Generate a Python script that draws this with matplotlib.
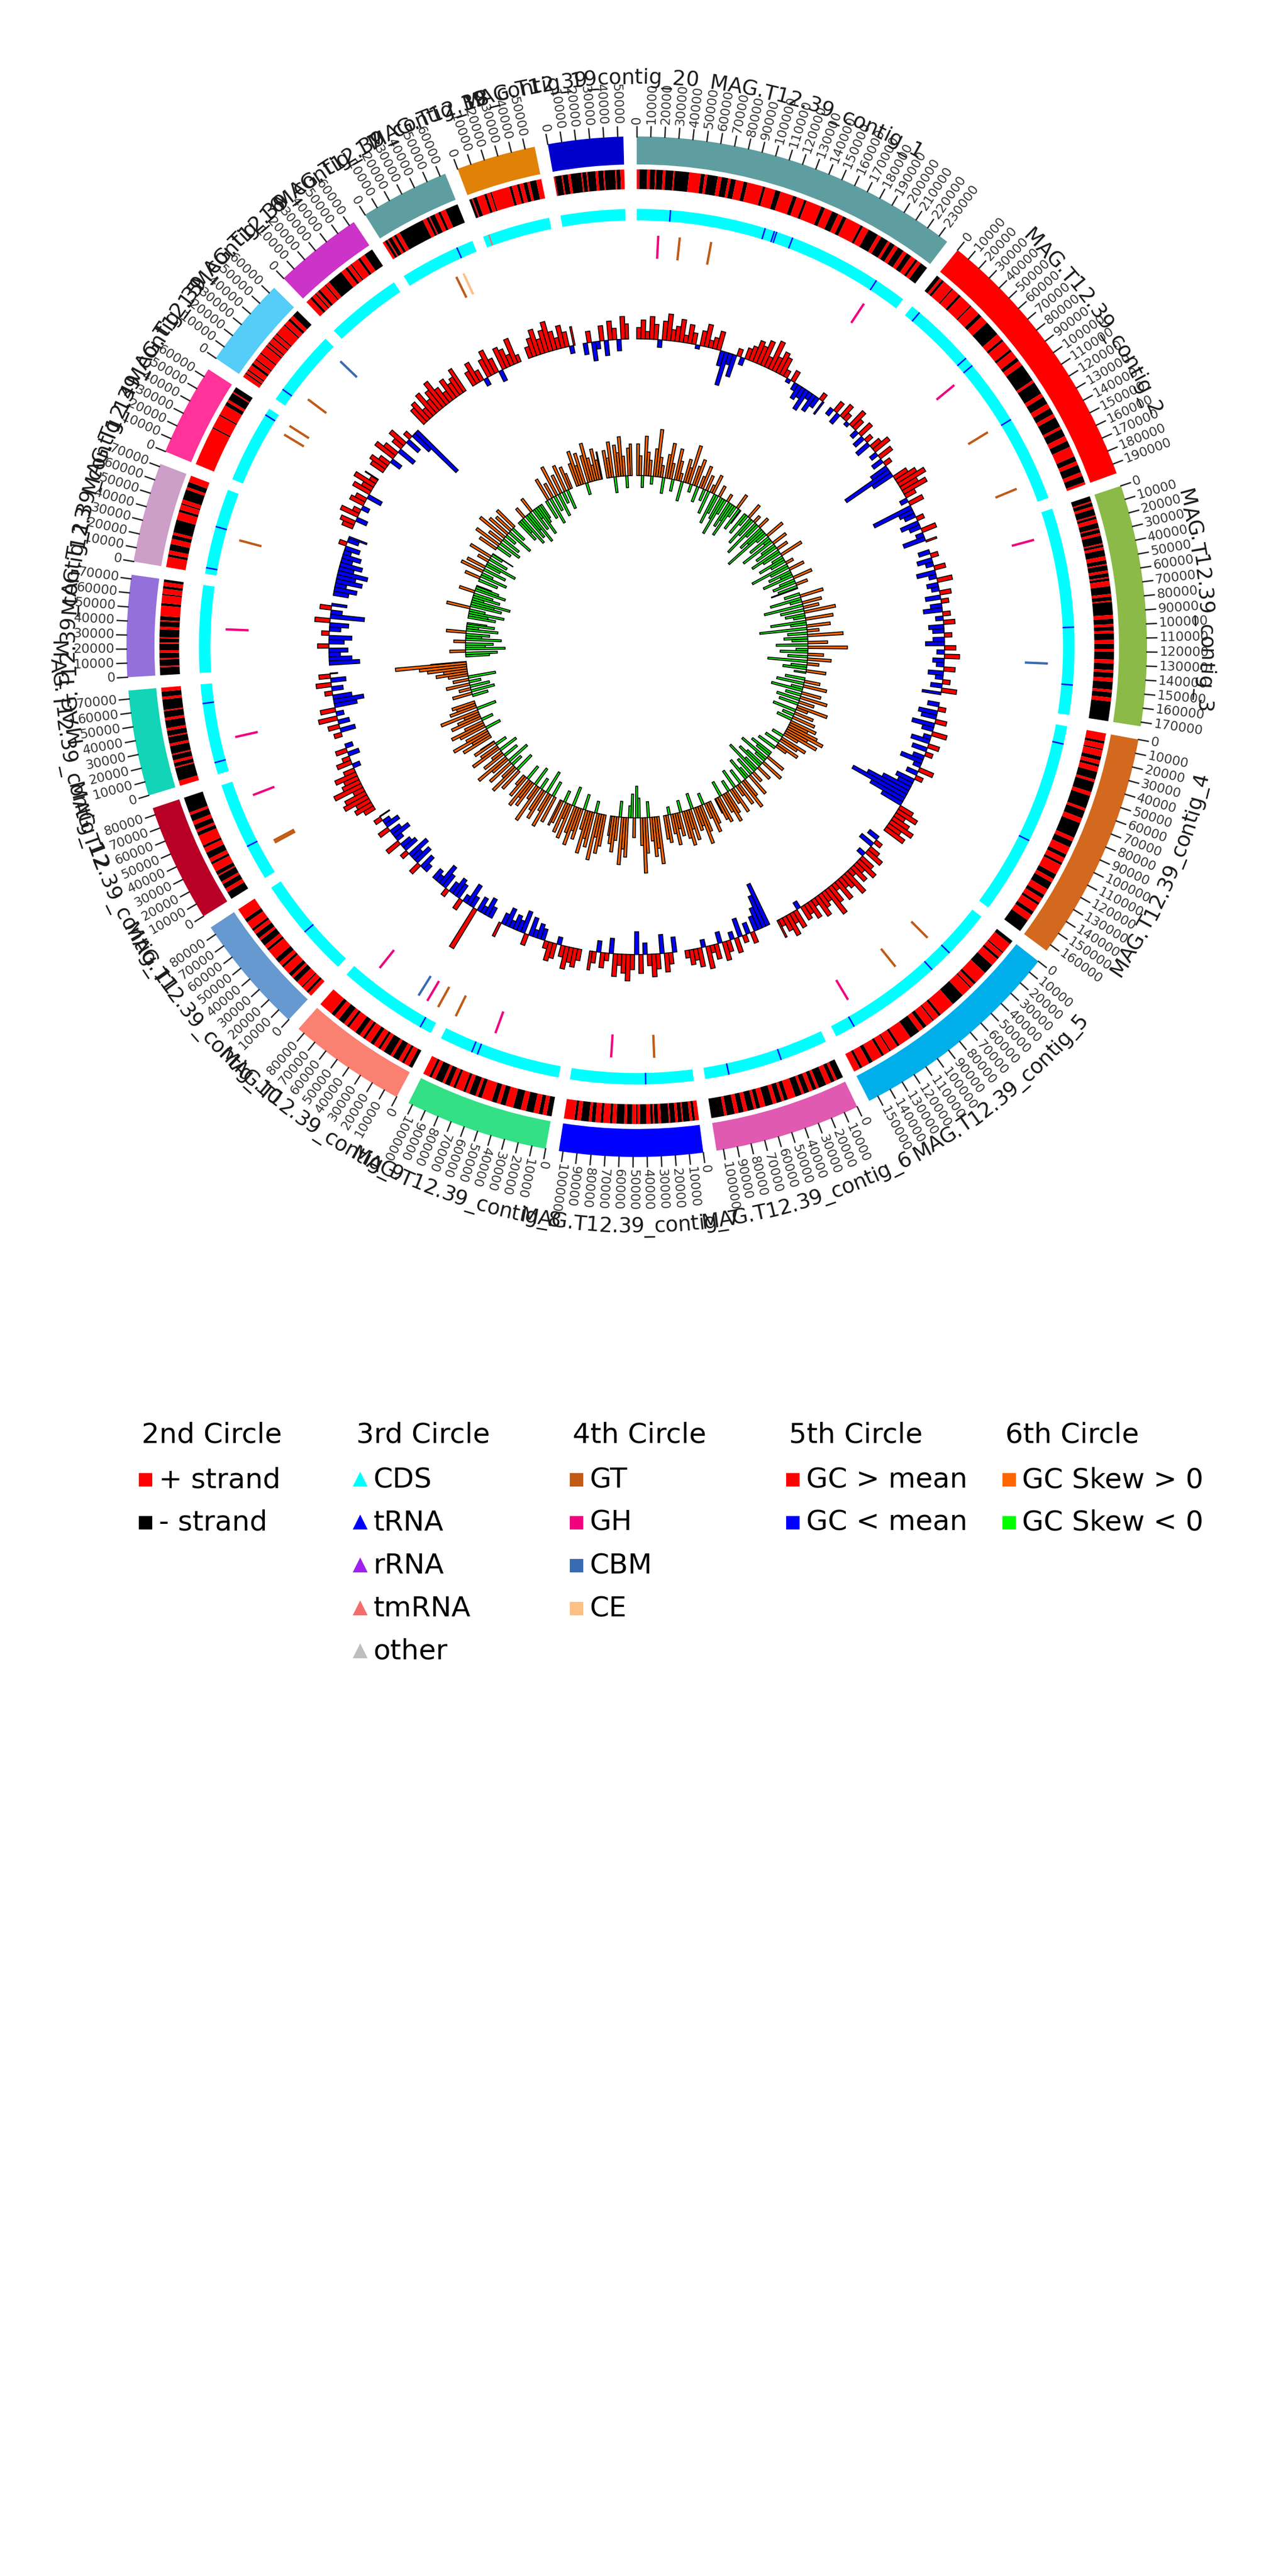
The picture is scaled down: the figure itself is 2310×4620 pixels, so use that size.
import numpy as np
import matplotlib
matplotlib.use('Agg')
import matplotlib.pyplot as plt
from matplotlib.lines import Line2D
from matplotlib.textpath import text_to_path
from matplotlib.font_manager import FontProperties

# ---- contigs (lengths in kb) ----
contig_names = ['MAG.T12.39_contig_%d' % i for i in range(1, 21)]
contig_len_kb = [237, 197, 173, 165, 157, 105, 103, 103, 85, 86,
                 85, 76, 73, 72, 66, 65, 64, 64, 57, 54]
contig_colors = ['#5F9EA0', '#FF0000', '#8BBA48', '#D2691E', '#00AEEA',
                 '#E05AB2', '#0000FF', '#34E085', '#FA8072', '#6699CF',
                 '#B80027', '#12D4B6', '#9370DB', '#CC9EC8', '#FF3399',
                 '#56CCF8', '#CC33C8', '#5F9EA0', '#E08208', '#0000CC']

# ---- 2nd circle: strand runs (kb), first run strand given ----
strand_first = ['+', '-', '-', '+', '-', '-', '+', '-', '-', '+',
                '-', '+', '-', '+', '+', '+', '+', '+', '-', '+']
strand_runs = [
    [2, 6, 2, 4, 1, 5, 2, 6, 1, 11, 9, 3, 2, 8, 3, 5, 2, 4, 6, 3, 12, 2, 8, 4, 10, 3, 6, 2, 12, 3,
     6, 5, 4, 3, 12, 2, 5, 8, 3, 6, 2, 4, 3, 5, 3, 4, 4, 2, 3, 6],
    [3, 2, 2, 8, 1, 6, 2, 10, 1, 8, 3, 6, 12, 5, 2, 8, 2, 6, 3, 4, 14, 2, 10, 3, 6, 4, 5, 3, 8, 2,
     6, 4, 5, 8, 4, 3, 6, 3, 5, 4, 6],
    [4, 1, 3, 2, 5, 1, 2, 3, 4, 1, 3, 2, 6, 1, 2, 2, 5, 3, 3, 1, 4, 2, 3, 1, 2, 4, 6, 2, 3, 1,
     10, 3, 4, 2, 3, 2, 5, 3, 4, 2, 6, 3, 5, 2, 4, 3, 6, 2, 4, 3, 15],
    [6, 2, 4, 1, 5, 3, 3, 2, 4, 6, 2, 8, 3, 10, 2, 6, 4, 12, 3, 5, 6, 3, 4, 2, 8, 4, 3, 6, 5, 3,
     4, 2, 6, 3, 5, 10],
    [3, 8, 1, 4, 2, 6, 8, 10, 2, 3, 1, 8, 10, 12, 2, 5, 1, 6, 3, 4, 8, 10, 2, 6, 1, 5, 2, 8, 3, 6,
     2, 5, 3, 4],
    [5, 2, 3, 4, 6, 2, 3, 3, 4, 2, 5, 6, 3, 2, 4, 3, 6, 4, 3, 2, 5, 3, 4, 3, 6, 2, 10],
    [3, 2, 2, 5, 1, 3, 2, 4, 1, 6, 2, 3, 1, 2, 3, 5, 2, 1, 3, 4, 2, 6, 3, 2, 5, 2, 4, 3, 2, 6,
     3, 2, 8],
    [4, 3, 3, 4, 6, 4, 6, 6, 4, 3, 4, 8, 3, 2, 5, 3, 2, 6, 2, 3, 4, 2, 6, 3, 2, 4],
    [3, 4, 2, 3, 5, 2, 6, 3, 2, 4, 3, 5, 2, 3, 4, 6, 2, 3, 5, 4, 3, 11],
    [3, 2, 4, 1, 5, 4, 2, 3, 6, 2, 3, 4, 8, 2, 3, 5, 2, 4, 3, 2, 6, 3, 9],
    [6, 3, 4, 2, 5, 1, 3, 6, 2, 3, 5, 4, 2, 8, 3, 2, 4, 3, 5, 2, 12],
    [4, 10, 1, 3, 2, 4, 1, 6, 2, 5, 1, 4, 2, 6, 2, 5, 1, 8, 2, 4, 3],
    [6, 1, 5, 1, 4, 2, 5, 1, 3, 1, 6, 2, 4, 1, 3, 8, 2, 6, 1, 4, 2, 3, 2],
    [8, 2, 3, 5, 4, 3, 2, 10, 6, 2, 4, 1, 3, 8, 2, 4, 5],
    [30, 1, 10, 1, 8, 3, 2, 6, 1, 4],
    [3, 1, 2, 1, 4, 2, 3, 1, 5, 1, 6, 1, 2, 1, 4, 1, 3, 1, 8, 1, 4, 2, 3, 6],
    [4, 2, 3, 1, 2, 2, 5, 1, 3, 12, 4, 2, 3, 1, 6, 2, 4, 7],
    [2, 2, 1, 3, 2, 2, 3, 20, 3, 2, 1, 4, 3, 2, 4, 10],
    [2, 1, 3, 6, 2, 3, 1, 14, 2, 4, 2, 3, 3, 2, 5, 4],
    [1, 5, 1, 4, 2, 8, 1, 3, 1, 6, 2, 4, 1, 8, 1, 3, 3],
]

# ---- 3rd circle: tRNA / tmRNA positions (kb) ----
trna_pos = [[28, 108, 116, 118, 132, 210], [8, 62, 70, 125], [100, 148], [15, 100],
            [40, 60, 140], [40, 85], [40], [70, 75], [10], [40], [30], [10, 60], [],
            [5, 40], [60], [10], [], [50], [], []]
tmrna_pos = [[], [], [], [], [], [], [], [], [], [], [], [], [], [], [], [], [], [], [5], []]

# ---- 4th circle: CAZy genes (contig index, kb, class) ----
cazy_contig = [0, 0, 0, 0, 1, 1, 1, 2, 2, 4, 4, 4, 6, 6, 7, 7, 8, 8, 8, 8,
               10, 10, 10, 11, 12, 13, 14, 14, 15, 15, 17, 17]
cazy_pos = [19, 38, 66, 212, 73, 124, 180, 21, 131, 44, 82, 133, 32, 70, 62, 100, 5, 16, 25, 67,
            22, 24, 68, 27, 37, 34, 54, 63, 16, 60, 39, 46]
cazy_class = ['GH', 'GT', 'GT', 'GH', 'GH', 'GT', 'GT', 'GH', 'CBM', 'GT', 'GT', 'GH', 'GT', 'GH',
              'GH', 'GT', 'GT', 'GH', 'CBM', 'GH', 'GT', 'GT', 'GH', 'GH', 'GH', 'GT', 'GT', 'GT',
              'GT', 'CBM', 'GT', 'CE']
cazy_colors = {'GT': '#BF5B17', 'GH': '#F0027F', 'CBM': '#386CB0', 'CE': '#FDC086'}

# ---- 5th circle: GC content deviation from mean (%), 5 kb windows ----
gc_dev = [
    [3, 5, 2, 6, 4, -2, 5, 7, 3, 4, 6, 2, 5, 3, -1, 4, 6, 2, 3, 5, -4, -9, -3, -6, 2, -2, 3, 4, 6, 5,
     7, 3, 8, 4, 6, 5, 2, -1, 3, -2, -4, -3, -6, -2, -5, -3, 2, -4],
    [-2, 3, -3, 4, 2, -1, 5, 3, -2, 4, -3, 2, -4, 3, 5, -2, 4, -3, 2, -5, -14, -6, 4, 6, 8, 5, 7, 3, -2, 4,
     -11, -4, -3, 2, -5, -3, 4, -2, -6, 3],
    [-3, 2, -4, -2, 3, -5, -2, 4, -3, -2, 3, -4, 2, -3, -5, 2, -2, 3, -4, -3, 2, -3, -5, 3, -2, 4, -3, -2,
     3, -4, -2, 2, -3, 4, -5],
    [-3, 2, -5, -4, 3, -6, -3, 4, -2, -5, 3, -4, 2, -3, -6, -2, 4, -3, 2, -5, -4, -8, -12, -16, -10, -6, 4, 6,
     3, 5, 7, 4, 6],
    [-3, 2, -4, 3, 5, -2, 4, 6, 3, 5, 2, 7, 4, 3, 6, 2, 5, 8, 3, 4, 6, 2, 5, 3, 4, -2, 5, 3, 6, 4, 2, 5],
    [-12, -9, -6, -4, 3, -3, 2, -5, 4, -2, 3, 5, -3, 4, 2, 6, -2, 5, 3, 4, 2],
    [-4, 3, 5, -5, 4, 6, 3, -3, 5, -6, 4, 7, 5, 3, 6, -4, 2, 4, -3, 3, 5],
    [3, 5, 4, 6, 3, -2, 4, 5, 2, -3, -4, -2, -5, 3, -6, -3, -4, -2, -5, -3, 4],
    [-3, -5, -2, -4, 12, -3, -6, -2, 3, -4, -5, -3, 2, -4, -6, -2, -3],
    [-2, -4, 3, -5, -3, -6, 2, -4, -3, 4, -2, -5, -3, 3, -4, -2, 2, -3],
    [3, 5, 4, 7, 6, 3, 8, 5, 4, 6, 3, -2, 4, 2, -3, 3, -2],
    [2, -4, 3, -3, 5, -2, 4, -6, -8, -5, 2, -3, 4, -4, 3, -2],
    [-8, -6, -3, -5, 3, -4, -6, 2, -3, -5, 4, -9, -3, 3, -4],
    [-4, -6, -3, -7, -5, -8, -4, -6, -3, -5, -2, -4, 2, -3, -5],
    [3, 4, -3, 5, 2, -2, 4, 3, -4, 5, 3, 6, 2, 4],
    [4, 5, 3, -3, 6, 4, -5, 3, 5, -4, 2, -6, -15],
    [5, 6, 3, 7, 4, 6, 8, 5, 3, 6, 4, 5, 7],
    [4, 6, 3, -2, 5, 7, 4, -3, 6, 5, 3, 7, 2],
    [3, 5, 7, 4, 6, 8, 5, 3, 6, 4, -2, 5],
    [-3, 3, -5, -2, 4, -4, 5, 3, -3, 6, 4],
]

# ---- 6th circle: GC skew x100, 5 kb windows ----
gc_skew = [
    [8, 5, -3, 10, 6, 4, -2, 7, 12, 5, 3, -4, 6, 9, 4, -3, 8, 5, 2, -5, 6, 4, 10, -2, 5, 7, -4, 3, 6, -3,
     4, -6, 2, 5, -8, -5, 3, -6, -10, -4, 2, -7, -5, -9, -3, 4, -6, -4],
    [-6, -3, 4, -8, -5, 2, -10, -4, 3, -7, -5, -12, -3, 5, -6, -2, -9, 4, -4, -6, 3, -8, -5, 6, -3, -7, -4, 2,
     -10, -5, 4, -6, -3, -8, 5, -4, -6, 3, -5, -7],
    [-4, 6, -8, -3, 5, -10, 4, -6, 8, -5, -3, 7, -9, -4, 6, -12, 3, -5, 9, -6, -4, 5, -8, 10, -3, -7, 4, -5,
     6, -10, 3, -4, -6, 5, -3],
    [-5, 4, -7, 6, -3, -8, 5, -4, 7, -6, 4, -5, 8, 3, -6, 5, -3, 6, -4, 7, 5, 8, 10, 6, 9, 4, -3, 7, 5, -4,
     6, 3, -5],
    [-6, -4, 5, -8, -3, 6, -5, -7, 4, -4, -9, 3, -5, 6, -3, -6, 5, 8, -4, 6, 3, -5, 7, 4, -3, 6, 8, 5, -4, 7,
     6, 4],
    [6, 8, 4, -3, 7, 10, 5, 6, -4, 8, 5, 9, 7, -3, 6, 4, 8, 5, -2, 7, 6],
    [12, 8, 10, 6, -4, 9, 14, 7, -5, -8, 5, -6, -3, 10, 8, 12, -4, 6, 9, 7, 5],
    [8, 10, 6, 12, -3, 9, 7, 11, 5, -4, 8, 6, 10, 7, -5, 9, 4, 8, -3, 6, 7],
    [7, -4, 9, 5, -6, 8, 6, -3, 10, 4, -5, 7, 5, 8, -4, 6, 3],
    [6, -5, 8, 4, -3, 7, -6, 5, 9, -4, 6, 3, -5, 8, 5, -3, 6, 4],
    [8, 5, 10, 6, -4, 7, 9, 5, -3, 8, 6, 4, 10, -5, 7, 5, 6],
    [-4, 5, -6, 3, -5, 6, -3, 4, -7, 5, 8, 6, 10, 12, 18, 9],
    [-6, -8, 4, -10, -5, -7, 3, -9, -4, -6, 5, -8, -3, -7, -5],
    [-7, -5, -9, -4, 6, -8, -6, -10, -3, -7, -5, 4, -8, -6, -4],
    [-5, 4, -7, -3, 6, -6, 5, -4, -8, 3, -5, 6, -3, -6],
    [5, -4, 7, -6, 4, -5, 8, -3, 6, -7, 5, -4, 6],
    [-6, -4, -8, 3, -7, -5, -9, 4, -6, -3, -8, -5, -4],
    [-5, 6, -7, 4, -4, 8, -6, 5, -3, 7, -5, 6, 4],
    [6, 9, 5, 8, -3, 7, 10, 6, 4, 8, 5, 7],
    [7, 5, 9, -4, 8, 6, 10, 5, -3, 7, 8],
]
WIN_KB = 5

# ---- layout (radii in "display units", outer ideogram = 310) ----
GAP = 1.5
R_IDEO = (293, 310)
R_STRAND = (278, 290)
R_CDS = (259, 266)
R_CAZY = (236, 250)
GC_BASE, GC_SCALE = 187, 2.3
SK_BASE, SK_SCALE = 104, 2.4

total_kb = sum(contig_len_kb)
deg_per_kb = (360 - GAP * len(contig_len_kb)) / total_kb
starts = []
acc = 0.0
for L in contig_len_kb:
    starts.append(acc)
    acc += L * deg_per_kb + GAP


def ang(ci, kb):
    return np.radians(starts[ci] + kb * deg_per_kb)


fig = plt.figure(figsize=(7.7, 15.4), dpi=300)
ax = fig.add_axes([0.01385, 0.5087, 0.961, 0.4805], projection='polar')
ax.set_theta_zero_location('N')
ax.set_theta_direction(-1)
ax.set_rlim(0, 376)
ax.axis('off')


def seg(ci, a, b, r0, r1, color, **kw):
    ax.bar(ang(ci, a), r1 - r0, width=ang(ci, b) - ang(ci, a), bottom=r0,
           align='edge', color=color, linewidth=0, **kw)


def line_at(ci, kb, r0, r1, color, lw):
    t = ang(ci, kb)
    ax.plot([t, t], [r0, r1], color=color, lw=lw, solid_capstyle='butt')


for ci, L in enumerate(contig_len_kb):
    # outer ideogram
    seg(ci, 0, L, R_IDEO[0], R_IDEO[1], contig_colors[ci])
    # ticks + labels
    for p in range(0, L + 1, 10):
        t = ang(ci, p)
        ax.plot([t, t], [R_IDEO[1], R_IDEO[1] + 6], color='#222222', lw=0.6)
        phi = np.degrees(t) % 360
        if 209 < phi < 360:
            rot, ha = 270 - phi, 'right'
        else:
            rot, ha = 90 - phi, 'left'
        ax.text(t, R_IDEO[1] + 7.5, str(p * 1000), rotation=rot, rotation_mode='anchor',
                ha=ha, va='center', fontsize=5.6, color='#333333')

    # strand runs
    pos = 0.0
    strand = strand_first[ci]
    runs = strand_runs[ci]
    for j, w in enumerate(runs):
        end = L if j == len(runs) - 1 else min(pos + w, L)
        if end > pos:
            seg(ci, pos, end, R_STRAND[0], R_STRAND[1], 'red' if strand == '+' else 'black')
        pos = end
        strand = '-' if strand == '+' else '+'
        if pos >= L:
            break

    # CDS band + tRNAs
    seg(ci, 0, L, R_CDS[0], R_CDS[1], '#00FFFF')
    for p in trna_pos[ci]:
        line_at(ci, p, R_CDS[0], R_CDS[1], '#0000FF', 0.6)
    for p in tmrna_pos[ci]:
        line_at(ci, p, R_CDS[0], R_CDS[1], '#F46D6D', 0.6)

    # GC content
    vals = gc_dev[ci]
    for j, v in enumerate(vals):
        a, b = j * WIN_KB, min((j + 1) * WIN_KB, L)
        if b <= a:
            break
        ax.bar(ang(ci, a), v * GC_SCALE, width=ang(ci, b) - ang(ci, a), bottom=GC_BASE,
               align='edge', color='red' if v > 0 else 'blue', edgecolor='black', linewidth=0.4)

    # GC skew
    vals = gc_skew[ci]
    for j, v in enumerate(vals):
        a, b = j * WIN_KB, min((j + 1) * WIN_KB, L)
        if b <= a:
            break
        ax.bar(ang(ci, a), v * SK_SCALE, width=ang(ci, b) - ang(ci, a), bottom=SK_BASE,
               align='edge', color='#FF6600' if v > 0 else '#00FF00', edgecolor='black', linewidth=0.4)

# CAZy marks
for ci, p, cl in zip(cazy_contig, cazy_pos, cazy_class):
    line_at(ci, p, R_CAZY[0], R_CAZY[1], cazy_colors[cl], 1.0)

# curved contig labels
label_fp = FontProperties(family='DejaVu Sans', size=9)
PT2U = 300 / 72 / 3  # points -> display units


def text_w(s):
    if not s:
        return 0.0
    return text_to_path.get_text_width_height_descent(s, label_fp, ismath=False)[0] * PT2U


for ci, name in enumerate(contig_names):
    mid = starts[ci] + contig_len_kb[ci] * deg_per_kb / 2
    total = text_w(name)
    bottom_mode = 90 < mid < 270
    r = 356 if bottom_mode else 342
    for i, ch in enumerate(name):
        c = (text_w(name[:i]) + text_w(name[:i + 1])) / 2
        d = np.degrees((c - total / 2) / r)
        if bottom_mode:
            phi = mid - d
            rot = 180 - phi
        else:
            phi = mid + d
            rot = -phi
        ax.text(np.radians(phi), r, ch, rotation=rot, rotation_mode='anchor',
                ha='center', va='baseline', fontproperties=label_fp, color='#1a1a1a')

# legend
legend_cols = [
    ('2nd Circle', 's', [('+ strand', '#FF0000'), ('- strand', '#000000')]),
    ('3rd Circle', '^', [('CDS', '#00FFFF'), ('tRNA', '#0000FF'), ('rRNA', '#A020F0'),
                         ('tmRNA', '#F46D6D'), ('other', '#BEBEBE')]),
    ('4th Circle', 's', [('GT', '#BF5B17'), ('GH', '#F0027F'), ('CBM', '#386CB0'), ('CE', '#FDC086')]),
    ('5th Circle', 's', [('GC > mean', '#FF0000'), ('GC < mean', '#0000FF')]),
    ('6th Circle', 's', [('GC Skew > 0', '#FF6600'), ('GC Skew < 0', '#00FF00')]),
]
col_x = [0.1129, 0.2795, 0.4475, 0.6155, 0.7834]
row_y = [0.4430, 0.4255, 0.4089, 0.3922, 0.3755, 0.3589]
for x, (title, mk, items) in zip(col_x, legend_cols):
    fig.text(x - 0.003, row_y[0], title, fontsize=12, ha='left', va='center')
    for k, (lab, col) in enumerate(items):
        y = row_y[k + 1]
        fig.add_artist(Line2D([x], [y], marker=mk, color=col, markersize=5, linestyle='None',
                              transform=fig.transFigure))
        fig.text(x + 0.0103, y, lab, fontsize=12, ha='left', va='center')

fig.savefig('out.png', dpi=300, facecolor='white')
